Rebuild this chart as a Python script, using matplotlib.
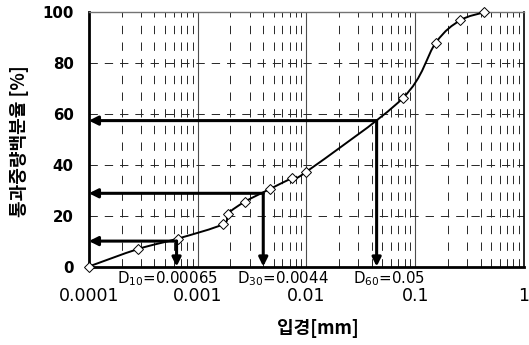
import numpy as np
import matplotlib

matplotlib.use("Agg")
import matplotlib.pyplot as plt
from matplotlib.path import Path
from matplotlib.patches import PathPatch
from matplotlib.ticker import FixedLocator, NullFormatter

plt.rcParams.update({
    "font.family": ["DejaVu Sans"],
    "mathtext.default": "regular",
    "lines.scale_dashes": False,
})
KR = ["Noto Sans CJK KR", "DejaVu Sans"]

# grain size distribution
size_mm = [0.0001, 0.000284, 0.00066, 0.0017, 0.0019, 0.00272, 0.00462,
           0.0073, 0.0100, 0.0767, 0.155, 0.258, 0.43]
passing = [0, 6.9, 11.0, 16.6, 20.8, 25.5, 30.5, 34.7, 37.3, 66.2, 88.1, 96.8, 100]

# characteristic diameters: (drawn x, drawn y, label)
d_x = [0.00064, 0.00401, 0.0442]
d_y = [10.0, 28.8, 57.4]
d_lab = [r"D$_{10}$=0.00065", r"D$_{30}$=0.0044", r"D$_{60}$=0.05"]
d_lab_x = [0.00053, 0.0061, 0.058]

xticks = [0.0001, 0.001, 0.01, 0.1, 1]
xticklabels = ["0.0001", "0.001", "0.01", "0.1", "1"]
yticks = [0, 20, 40, 60, 80, 100]


def smooth_path(xs, ys):
    # Excel-style smoothed line: cubic bezier in (log x, y) space
    u = np.log10(xs)
    v = np.asarray(ys, float)
    n = len(u)
    verts = [(xs[0], v[0])]
    codes = [Path.MOVETO]
    for i in range(n - 1):
        i0, i3 = max(i - 1, 0), min(i + 2, n - 1)
        c1 = (u[i] + (u[i + 1] - u[i0]) / 6, v[i] + (v[i + 1] - v[i0]) / 6)
        c2 = (u[i + 1] - (u[i3] - u[i]) / 6, v[i + 1] - (v[i3] - v[i]) / 6)
        verts += [(10 ** c1[0], c1[1]), (10 ** c2[0], c2[1]), (xs[i + 1], v[i + 1])]
        codes += [Path.CURVE4] * 3
    return Path(verts, codes)


fig = plt.figure(figsize=(5.29, 3.45), dpi=100)
ax = fig.add_axes([0.168, 0.2275, 0.8225, 0.7368])
ax.set_xscale("log")
ax.set_xlim(0.0001, 1)
ax.set_ylim(0, 100)

# grid
for dec in [0.0001, 0.001, 0.01, 0.1]:
    for k in range(2, 10):
        ax.axvline(dec * k, color="0.15", lw=0.7, dashes=(6, 6), zorder=1)
for dec in [0.001, 0.01, 0.1]:
    ax.axvline(dec, color="0.3", lw=0.8, zorder=1)
for yv in [20, 40, 60, 80]:
    ax.axhline(yv, color="0.15", lw=0.7, dashes=(6, 5), zorder=1)

# curve and markers
ax.add_patch(PathPatch(smooth_path(size_mm, passing), fill=False, lw=1.4,
                       edgecolor="black", zorder=3))
ax.plot(size_mm, passing, ls="none", marker="D", ms=5, mfc="white",
        mec="black", mew=0.7, zorder=4, clip_on=False)

# D10 / D30 / D60 arrows
arr = dict(arrowstyle="-|>", lw=2.2, color="black", shrinkA=0, shrinkB=0,
           mutation_scale=13)
for x, y, lab, lx in zip(d_x, d_y, d_lab, d_lab_x):
    ax.annotate("", xy=(0.0001, y), xytext=(x, y), arrowprops=arr, zorder=5)
    ax.annotate("", xy=(x, 0), xytext=(x, y), arrowprops=arr, zorder=5)
    ax.annotate(lab, xy=(lx, 0), xytext=(0, -12.5), textcoords="offset pixels",
                ha="center", va="center", fontsize=10.8)

ax.xaxis.set_major_locator(FixedLocator(xticks))
ax.set_xticklabels(xticklabels)
ax.xaxis.set_minor_formatter(NullFormatter())
ax.set_yticks(yticks)
ax.tick_params(axis="both", which="both", length=0)
ax.tick_params(axis="x", pad=15, labelsize=12.5)
ax.tick_params(axis="y", pad=11, labelsize=10.8)
for t in ax.get_yticklabels():
    t.set_fontweight("bold")

for side in ["left", "bottom"]:
    ax.spines[side].set_linewidth(2.0)
ax.spines["top"].set_color("0.45")
ax.spines["top"].set_linewidth(1.0)
ax.spines["right"].set_linewidth(1.2)

fig.text(0.601, 0.049, "입경[mm]", ha="center", va="center", fontsize=13,
         fontweight="bold", family=KR)
fig.text(0.036, 0.59, "통과중량백분율 [%]", ha="center", va="center",
         rotation=90, fontsize=13, fontweight="bold", family=KR)

fig.savefig("out.png", dpi=100)
